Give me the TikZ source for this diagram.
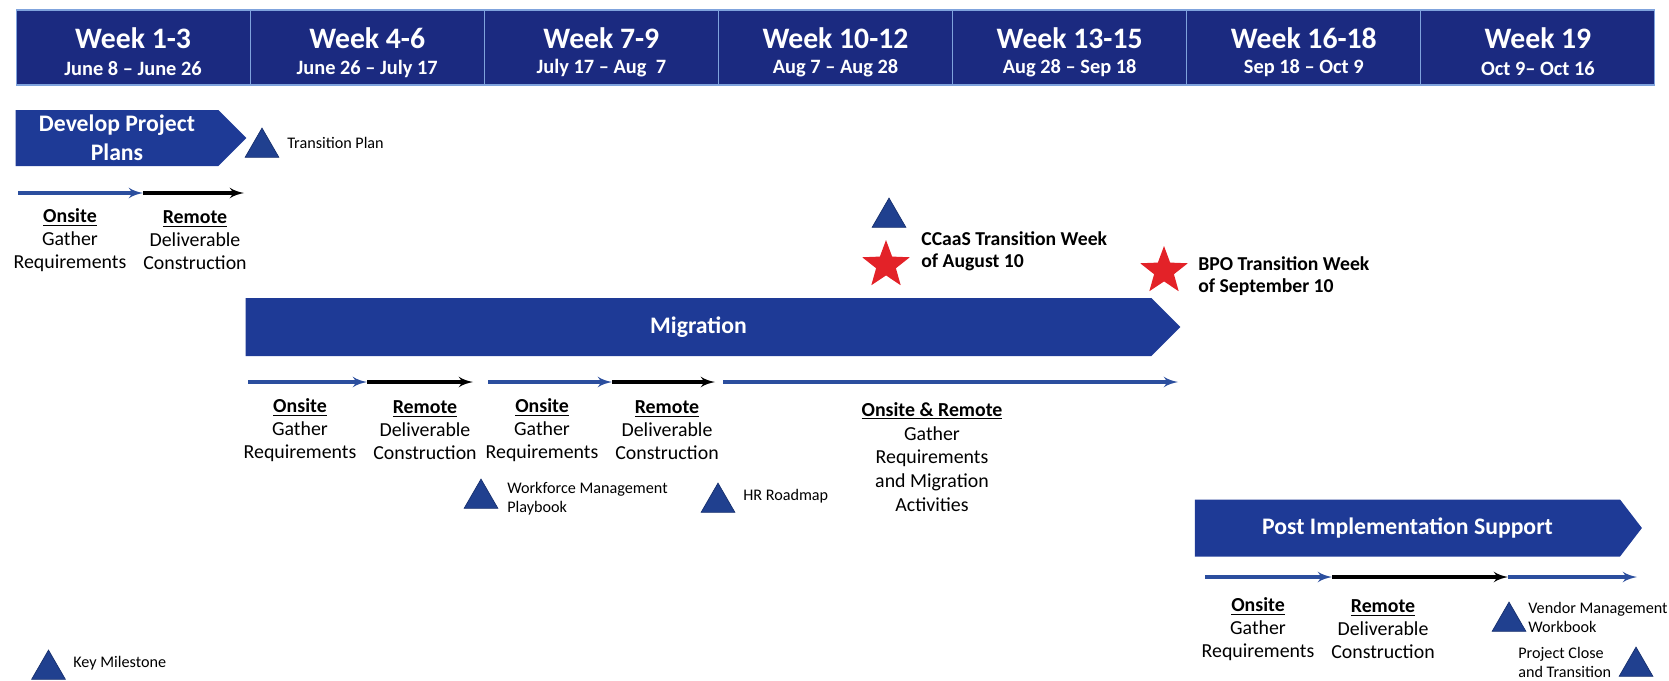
\documentclass[tikz,border=0pt]{standalone}
\usepackage{fontspec}
\setmainfont{Carlito}
\usetikzlibrary{arrows,shapes.geometric,shapes.symbols}
\definecolor{navy}{HTML}{1B2A80}
\definecolor{cellline}{HTML}{7FA3DD}
\definecolor{chevblue}{HTML}{1E3A96}
\definecolor{mileblue}{HTML}{20408F}
\definecolor{miledark}{HTML}{17306E}
\definecolor{lineblue}{HTML}{2B4E9E}
\definecolor{starred}{HTML}{E32228}

\begin{document}
\begin{tikzpicture}[x=0.02cm,y=-0.02cm,>=latex',
    cell/.style={draw=cellline,line width=0.6pt,fill=navy,minimum width=4.682cm,minimum height=1.5cm,inner sep=0pt},
    wk/.style={text=white,inner sep=0pt,font=\fontsize{16.9}{18}\selectfont\bfseries},
    dt/.style={text=white,inner sep=0pt,font=\fontsize{11.6}{13}\selectfont\bfseries},
    phase/.style={shape=signal,signal to=east,signal pointer angle=90,fill=chevblue,text=white,inner sep=0pt,align=center,font=\fontsize{13.5}{16.4}\selectfont\bfseries},
    mile/.style={regular polygon,regular polygon sides=3,fill=mileblue,draw=miledark,line width=0.4pt,minimum size=0.78cm,inner sep=0pt},
    goal/.style={star,star points=5,star point ratio=2.4,fill=starred,minimum size=1cm,inner sep=0pt},
    sub/.style={align=center,inner sep=0pt,font=\fontsize{11.3}{13}\selectfont},
    note/.style={align=left,anchor=west,inner sep=0pt,font=\fontsize{9.2}{10.8}\selectfont},
    bignote/.style={align=left,anchor=west,inner sep=0pt,font=\fontsize{11.2}{12.5}\selectfont\bfseries},
    onsite/.style={->,draw=lineblue,line width=1.8pt},
    remote/.style={->,draw=black,line width=1.8pt}]

    \useasboundingbox (0,0) rectangle (1669,680);

    \begin{scope}
        \node[cell] (c1) at (133.07,47.5) {};
        \node[cell] (c2) at (367.21,47.5) {};
        \node[cell] (c3) at (601.35,47.5) {};
        \node[cell] (c4) at (835.49,47.5) {};
        \node[cell] (c5) at (1069.63,47.5) {};
        \node[cell] (c6) at (1303.77,47.5) {};
        \node[cell] (c7) at (1537.91,47.5) {};
        \draw (133.07,38) node[wk] (w1) {Week 1-3};
        \draw (367.21,38) node[wk] (w2) {Week 4-6};
        \draw (601.35,38) node[wk] (w3) {Week 7-9};
        \draw (835.49,38) node[wk] (w4) {Week 10-12};
        \draw (1069.63,38) node[wk] (w5) {Week 13-15};
        \draw (1303.77,38) node[wk] (w6) {Week 16-18};
        \draw (1537.91,38) node[wk] (w7) {Week 19};
        \draw (133.07,68.5) node[dt] (d1) {June 8 -- June 26};
        \draw (367.21,68.5) node[dt] (d2) {June 26 -- July 17};
        \draw (601.35,68.5) node[dt] (d3) {July 17 -- Aug\ \ 7};
        \draw (835.49,68.5) node[dt] (d4) {Aug 7 -- Aug 28};
        \draw (1069.63,68.5) node[dt] (d5) {Aug 28 -- Sep 18};
        \draw (1303.77,68.5) node[dt] (d6) {Sep 18 -- Oct 9};
        \draw (1537.91,68.5) node[dt] (d7) {Oct 9-- Oct 16};
    \end{scope}

    \begin{scope}
        \node[phase,minimum width=4.62cm,minimum height=1.12cm] (dev) at (117,138) {Develop Project\\Plans};
        \node[mile] (tp) at (262,147.6) {};
        \node[note] (tpl) at (287,143) {Transition Plan};
        \coordinate (a0) at (18,193);
        \coordinate (a1) at (143,193);
        \coordinate (a2) at (244,193);
        \draw[onsite] (a0) -- (a1);
        \draw[remote] (a1) -- (a2);
        \node[sub] (g1) at (70,240) {\textbf{\underline{Onsite}}\\Gather\\Requirements};
        \node[sub] (r1) at (195,240) {\textbf{\underline{Remote}}\\Deliverable\\Construction};
    \end{scope}

    \begin{scope}
        \node[mile] (cc) at (889,217.6) {};
        \node[goal] (s1) at (886,265) {};
        \node[bignote] (ccl) at (921,251) {CCaaS Transition Week\\of August 10};
        \node[goal] (s2) at (1164,271) {};
        \node[bignote] (bpl) at (1198,276) {BPO Transition Week\\of September 10};
    \end{scope}

    \begin{scope}
        \node[phase,minimum width=18.7cm,minimum height=1.16cm] (mig) at (698.5,327) {Migration};
        \coordinate (m0) at (248,382);
        \coordinate (m1) at (367,382);
        \coordinate (m2) at (473,382);
        \coordinate (m3) at (488,382);
        \coordinate (m4) at (612,382);
        \coordinate (m5) at (715,382);
        \coordinate (m6) at (723,382);
        \coordinate (m7) at (1178,382);
        \draw[onsite] (m0) -- (m1);
        \draw[remote] (m1) -- (m2);
        \draw[onsite] (m3) -- (m4);
        \draw[remote] (m4) -- (m5);
        \draw[onsite] (m6) -- (m7);
        \node[sub] (g2) at (300,430) {\textbf{\underline{Onsite}}\\Gather\\Requirements};
        \node[sub] (r2) at (425,430) {\textbf{\underline{Remote}}\\Deliverable\\Construction};
        \node[sub] (g3) at (542,430) {\textbf{\underline{Onsite}}\\Gather\\Requirements};
        \node[sub] (r3) at (667,430) {\textbf{\underline{Remote}}\\Deliverable\\Construction};
        \node[sub,font=\fontsize{11.3}{13.6}\selectfont] (gr) at (932,457) {\textbf{\underline{Onsite \& Remote}}\\Gather\\Requirements\\and Migration\\Activities};
        \node[mile] (wfm) at (481,498.6) {};
        \node[note] (wfml) at (507,498.5) {Workforce Management\\Playbook};
        \node[mile] (hr) at (718,502.6) {};
        \node[note] (hrl) at (743,496) {HR Roadmap};
    \end{scope}

    \begin{scope}
        \node[phase,signal pointer angle=105,minimum width=8.94cm,minimum height=1.14cm] (pis) at (1407.5,528) {Post Implementation Support};
        \coordinate (p0) at (1205,577);
        \coordinate (p1) at (1332,577);
        \coordinate (p2) at (1508,577);
        \coordinate (p3) at (1637,577);
        \draw[onsite] (p0) -- (p1);
        \draw[remote] (p1) -- (p2);
        \draw[onsite] (p2) -- (p3);
        \node[sub] (g4) at (1258,629) {\textbf{\underline{Onsite}}\\Gather\\Requirements};
        \node[sub] (r4) at (1383,629) {\textbf{\underline{Remote}}\\Deliverable\\Construction};
        \node[mile] (vm) at (1509,621.6) {};
        \node[note] (vml) at (1528,617.5) {Vendor Management\\Workbook};
        \node[mile] (pc) at (1636,666.6) {};
        \node[note] (pcl) at (1518,662.5) {Project Close\\and Transition};
    \end{scope}

    \node[mile] (key) at (48.5,669.6) {};
    \node[note] (keyl) at (73,663) {Key Milestone};

\end{tikzpicture}
\end{document}
